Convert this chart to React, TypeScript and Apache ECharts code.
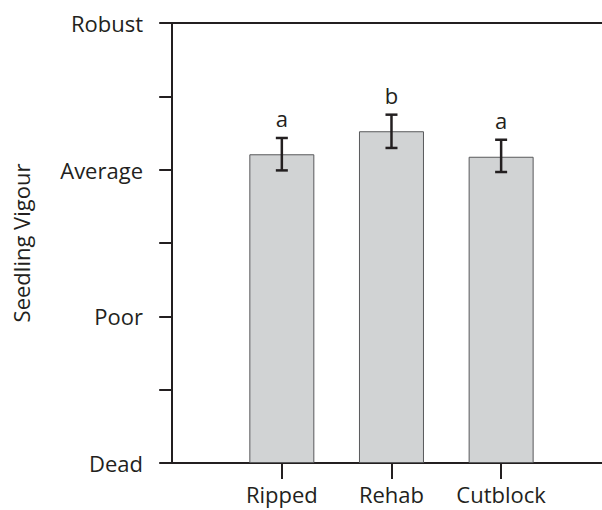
import React, { useEffect, useRef } from "react";
import * as echarts from "echarts";

const categories = ["Ripped", "Rehab", "Cutblock"];
const positions = [1, 2, 3];
const means = [2.105, 2.262, 2.088];
const lowers = [1.995, 2.148, 1.984];
const uppers = [2.216, 2.375, 2.204];
const letters = ["a", "b", "a"];
const yLevelLabels = ["Dead", "Poor", "Average", "Robust"];
const yTitle = "Seedling Vigour";

const FONT = "Open Sans";
const INK = "#231f20";

export default function App() {
  const ref = useRef<HTMLDivElement>(null);
  useEffect(() => {
    document.body.style.margin = "0";
    const chart = echarts.init(ref.current!, null, { renderer: "svg" });
    const barData = positions.map((p, i) => [p, means[i]]);
    const errData = positions.map((p, i) => [p, lowers[i], uppers[i], letters[i]]);
    chart.setOption({
      animation: false,
      textStyle: { fontFamily: FONT, color: INK },
      grid: { left: 170, right: 0, top: 23, bottom: 47, outerBoundsMode: "none", containLabel: false },
      xAxis: [
        {
          type: "value",
          min: -0.02,
          max: 3.92,
          interval: 1,
          splitLine: { show: false },
          axisLine: { show: true, onZero: false, lineStyle: { color: INK, width: 2 } },
          axisTick: { show: true, length: 16, customValues: positions, lineStyle: { color: INK, width: 2 } },
          axisLabel: {
            customValues: positions,
            formatter: (v: number) => categories[Math.round(v) - 1] ?? "",
            fontFamily: FONT,
            fontSize: 22,
            color: INK,
            margin: 20,
          },
        },
        {
          type: "value",
          position: "top",
          min: -0.02,
          max: 3.92,
          splitLine: { show: false },
          axisLine: { show: true, onZero: false, lineStyle: { color: INK, width: 2 } },
          axisTick: { show: false },
          axisLabel: { show: false },
        },
      ],
      yAxis: {
        type: "value",
        min: 0,
        max: 3,
        interval: 0.5,
        name: yTitle,
        nameLocation: "middle",
        nameGap: 138,
        nameTextStyle: { fontFamily: FONT, fontSize: 22, color: INK },
        splitLine: { show: false },
        axisLine: { show: true, lineStyle: { color: INK, width: 2 } },
        axisTick: { show: true, length: 13, lineStyle: { color: INK, width: 2 } },
        axisLabel: {
          formatter: (v: number) => (Math.abs(v - Math.round(v)) < 1e-6 ? yLevelLabels[Math.round(v)] : ""),
          fontFamily: FONT,
          fontSize: 22,
          color: INK,
          margin: 27,
        },
      },
      series: [
        {
          type: "bar",
          data: barData,
          barWidth: 65,
          itemStyle: { color: "#d1d3d4", borderColor: "#58595b", borderWidth: 1 },
        },
        {
          type: "custom",
          data: errData,
          z: 10,
          renderItem: (params: any, api: any) => {
            const x = api.value(0);
            const lo = api.coord([x, api.value(1)]);
            const hi = api.coord([x, api.value(2)]);
            const hw = 6;
            const st = { stroke: INK, lineWidth: 2.5 };
            return {
              type: "group",
              children: [
                { type: "line", shape: { x1: lo[0], y1: lo[1], x2: hi[0], y2: hi[1] }, style: st },
                { type: "line", shape: { x1: lo[0] - hw, y1: lo[1], x2: lo[0] + hw, y2: lo[1] }, style: st },
                { type: "line", shape: { x1: hi[0] - hw, y1: hi[1], x2: hi[0] + hw, y2: hi[1] }, style: st },
                {
                  type: "text",
                  x: hi[0],
                  y: hi[1] - 9,
                  style: {
                    text: String(api.value(3)),
                    fontFamily: FONT,
                    fontSize: 22,
                    fill: INK,
                    align: "center",
                    verticalAlign: "bottom",
                  },
                },
              ],
            };
          },
        },
      ],
    });
    return () => chart.dispose();
  }, []);
  return <div ref={ref} style={{ width: 602, height: 510 }} />;
}
